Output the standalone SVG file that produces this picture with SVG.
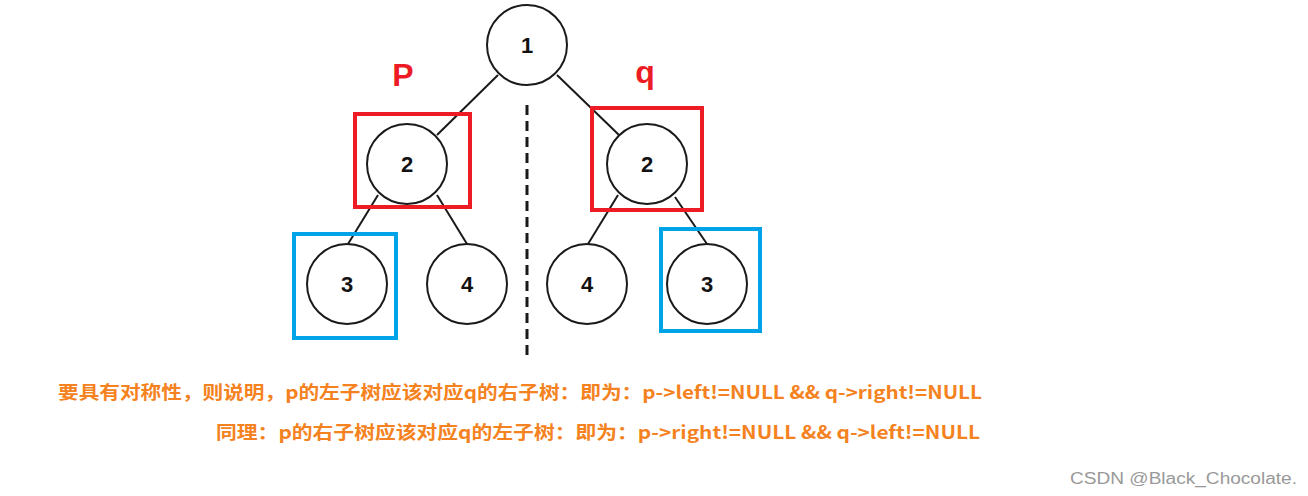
<svg xmlns="http://www.w3.org/2000/svg" width="1308" height="496" viewBox="0 0 1308 496">
<style>
.node circle{fill:#fff;stroke:#1a1a1a;stroke-width:2}
.node text{font-family:"Liberation Sans",Arial,sans-serif;font-size:22px;font-weight:bold;fill:#111;text-anchor:middle}
.edge{stroke:#1a1a1a;stroke-width:2;fill:none}
.red{fill:none;stroke:#ed1c24;stroke-width:4}
.blue{fill:none;stroke:#00a2e8;stroke-width:4}
.lbl{font-family:"Liberation Sans",Arial,sans-serif;font-size:32px;font-weight:bold;fill:#ed1c24;text-anchor:middle}
.note{font-family:"Noto Sans CJK SC","Microsoft YaHei",sans-serif;font-size:18px;font-weight:bold;fill:#f58220}
</style>
<rect width="1308" height="496" fill="#fff"/>
<g id="connectors">
<line class="edge" x1="498" y1="75" x2="437" y2="135"/>
<line class="edge" x1="557" y1="75" x2="619" y2="135"/>
<line class="edge" x1="378" y1="195" x2="348" y2="244"/>
<line class="edge" x1="437" y1="195" x2="467" y2="244"/>
<line class="edge" x1="618" y1="195" x2="588" y2="244"/>
<line class="edge" x1="675" y1="197" x2="707" y2="244"/>
<line x1="527" y1="105" x2="527" y2="358" stroke="#1a1a1a" stroke-width="3" stroke-dasharray="10,6"/>
</g>
<g id="n1" class="node"><circle cx="527" cy="45" r="40"/><text x="527" y="53">1</text></g>
<g id="n2L" class="node"><circle cx="407" cy="164" r="40"/><text x="407" y="172">2</text></g>
<g id="n2R" class="node"><circle cx="647" cy="164" r="40"/><text x="647" y="172">2</text></g>
<g id="n3L" class="node"><circle cx="347" cy="284" r="40"/><text x="347" y="292">3</text></g>
<g id="n4L" class="node"><circle cx="467" cy="284" r="40"/><text x="467" y="292">4</text></g>
<g id="n4R" class="node"><circle cx="587" cy="284" r="40"/><text x="587" y="292">4</text></g>
<g id="n3R" class="node"><circle cx="707" cy="284" r="40"/><text x="707" y="292">3</text></g>
<g id="boxes">
<rect class="red" x="355" y="114" width="115" height="93"/>
<rect class="red" x="592" y="108" width="110" height="102"/>
<rect class="blue" x="294" y="234" width="102" height="104"/>
<rect class="blue" x="661" y="229" width="99" height="102"/>
</g>
<text class="lbl" x="403" y="86">P</text>
<text class="lbl" x="645" y="83">q</text>
<text class="note" x="58" y="399" textLength="924" lengthAdjust="spacingAndGlyphs">要具有对称性，则说明，p的左子树应该对应q的右子树：即为：p-&gt;left!=NULL &amp;&amp; q-&gt;right!=NULL</text>
<text class="note" x="216" y="439" textLength="764" lengthAdjust="spacingAndGlyphs">同理：p的右子树应该对应q的左子树：即为：p-&gt;right!=NULL &amp;&amp; q-&gt;left!=NULL</text>
<text x="1070" y="484" font-family="'Liberation Sans',Arial,sans-serif" font-size="16" fill="#999" textLength="227" lengthAdjust="spacingAndGlyphs">CSDN @Black_Chocolate.</text>
</svg>
